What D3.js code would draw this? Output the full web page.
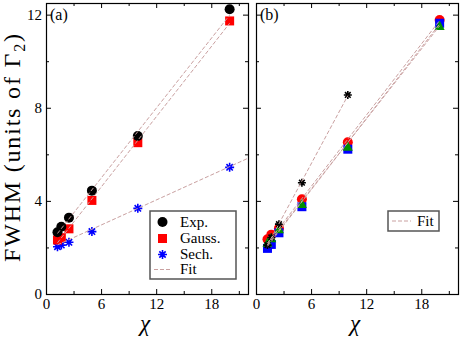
<!DOCTYPE html>
<html><head><meta charset="utf-8">
<script src="https://cdn.jsdelivr.net/npm/d3@7"></script>
<style>
html,body{margin:0;padding:0;background:#fff;}
svg text{font-family:"Liberation Serif","DejaVu Serif",serif;fill:#000;}
</style></head>
<body><svg id="c" width="463" height="343" font-family="Liberation Serif"></svg>
<script>
// ---- data ----
const chi = [1.25, 1.67, 2.5, 5, 10, 20];
const aExp = [2.65, 2.89, 3.28, 4.44, 6.79, 12.23];
const aGauss = [2.32, 2.42, 2.80, 4.02, 6.50, 11.73];
const aSech = [2.03, 2.10, 2.22, 2.68, 3.68, 5.44];
const aFitX = [[1.25, 20], [1.25, 20], [1.25, 22]];
const aFitY = [[2.60, 11.98], [2.20, 11.63], [2.11, 5.83]];

const bRed = [2.35, 2.55, 2.82, 4.07, 6.52, 11.77];
const bBlue = [1.96, 2.13, 2.63, 3.75, 6.22, 11.63];
const bGreen = [2.20, 2.39, 2.78, 3.87, 6.33, 11.51];
const chiStar = [1.25, 1.67, 2.5, 5, 10];
const bStar = [2.10, 2.43, 3.00, 4.78, 8.55];
const bFitX = [[1.25, 20], [1.25, 20], [1.25, 20], [1.25, 10]];
const bFitY = [[2.19, 11.75], [2.05, 11.60], [2.12, 11.52], [2.10, 8.52]];

const xMajor = [0, 6, 12, 18], xMinor = [3, 9, 15, 21];
const yMajor = [0, 4, 8, 12], yMinor = [2, 6, 10];
const legendA = ["Exp.", "Gauss.", "Sech.", "Fit"];

// ---- drawing ----
const SERIF = '"Liberation Serif","DejaVu Serif",serif';
const svg = d3.select("#c");
const y = d3.scaleLinear().domain([0, 12.5]).range([294, 3]);
const xa = d3.scaleLinear().domain([0, 22]).range([46, 248]);
const xb = d3.scaleLinear().domain([0, 22]).range([256, 458]);
const fitColor = "#c9a0a0";

function frame(x, showY) {
  const g = svg.append("g");
  const [x0, x1] = x.range(); const [y0, y1] = y.range();
  const ax = (gen, tr) => {
    const a = g.append("g").attr("transform", tr).call(gen);
    a.attr("font-family", SERIF).attr("font-size", 15);
    a.select(".domain").remove();
    a.selectAll("line").attr("stroke", "#000");
    a.selectAll("text").style("font-family", SERIF).style("font-size", "15px").attr("fill", "#000");
    return a;
  };
  ax(d3.axisBottom(x).tickValues(xMajor).tickSize(-5).tickPadding(4).tickFormat(d3.format("d")), `translate(0,${y0})`);
  ax(d3.axisBottom(x).tickValues(xMinor).tickSize(-3).tickFormat(""), `translate(0,${y0})`);
  ax(d3.axisTop(x).tickValues(xMajor).tickSize(-5).tickFormat(""), `translate(0,${y1})`);
  ax(d3.axisTop(x).tickValues(xMinor).tickSize(-3).tickFormat(""), `translate(0,${y1})`);
  ax(d3.axisLeft(y).tickValues(yMajor).tickSize(-5).tickPadding(4).tickFormat(showY ? d3.format("d") : ""), `translate(${x0},0)`);
  ax(d3.axisLeft(y).tickValues(yMinor).tickSize(-3).tickFormat(""), `translate(${x0},0)`);
  ax(d3.axisRight(y).tickValues(yMajor).tickSize(-5).tickFormat(""), `translate(${x1},0)`);
  ax(d3.axisRight(y).tickValues(yMinor).tickSize(-3).tickFormat(""), `translate(${x1},0)`);
  g.append("rect").attr("x", x0 + 0.5).attr("y", y1 + 0.5).attr("width", x1 - x0).attr("height", y0 - y1)
    .attr("fill", "none").attr("stroke", "#000").attr("stroke-width", 1.2);
  g.append("text").attr("x", (x0 + x1) / 2 - 2).attr("y", 331).attr("text-anchor", "middle")
    .style("font-family", SERIF).style("font-size", "23px").style("font-style", "italic").text("χ");
  return g;
}

const gA = frame(xa, true);
const gB = frame(xb, false);

function star(g, cx, cy, r, color) {
  const p = d3.path();
  for (let k = 0; k < 4; k++) {
    const a = k * Math.PI / 4;
    p.moveTo(cx - r * Math.cos(a), cy - r * Math.sin(a));
    p.lineTo(cx + r * Math.cos(a), cy + r * Math.sin(a));
  }
  g.append("path").attr("d", p.toString()).attr("stroke", color).attr("stroke-width", 1.6).attr("fill", "none");
}
function circ(g, cx, cy, color) { g.append("circle").attr("cx", cx).attr("cy", cy).attr("r", 5).attr("fill", color); }
function sq(g, cx, cy, color) { g.append("rect").attr("x", cx - 4.5).attr("y", cy - 4.5).attr("width", 9).attr("height", 9).attr("fill", color); }
function tri(g, cx, cy, color) {
  g.append("path").attr("d", `M${cx},${cy - 5.5}L${cx + 5},${cy + 4}L${cx - 5},${cy + 4}Z`).attr("fill", color);
}
const line = (x) => d3.line().x(d => x(d[0])).y(d => y(d[1]));
function fit(g, x, xs, ys) {
  g.append("path").attr("d", line(x)(d3.zip(xs, ys))).attr("fill", "none")
    .attr("stroke", fitColor).attr("stroke-width", 1).attr("stroke-dasharray", "4,2");
}

// panel (a)
chi.forEach((c, i) => star(gA, xa(c), y(aSech[i]), 4.5, "#0000ff"));
chi.forEach((c, i) => sq(gA, xa(c), y(aGauss[i]), "#ff0000"));
chi.forEach((c, i) => circ(gA, xa(c), y(aExp[i]), "#000"));
aFitX.forEach((xs, i) => fit(gA, xa, xs, aFitY[i]));

// panel (b)
chi.forEach((c, i) => circ(gB, xb(c), y(bRed[i]), "#ff0000"));
chi.forEach((c, i) => sq(gB, xb(c), y(bBlue[i]), "#0000ff"));
chi.forEach((c, i) => tri(gB, xb(c), y(bGreen[i]), "#009000"));
chiStar.forEach((c, i) => star(gB, xb(c), y(bStar[i]), 4, "#000"));
bFitX.forEach((xs, i) => fit(gB, xb, xs, bFitY[i]));

// panel labels
svg.append("text").attr("x", 50).attr("y", 20).style("font-family", SERIF).style("font-size", "16px").text("(a)");
svg.append("text").attr("x", 260).attr("y", 20).style("font-family", SERIF).style("font-size", "16px").text("(b)");

// y label
const yl = svg.append("text").attr("transform", "translate(20,148) rotate(-90)").attr("text-anchor", "middle")
  .style("font-family", SERIF).style("font-size", "24px").attr("textLength", 228).attr("lengthAdjust", "spacing");
yl.append("tspan").text("FWHM (units of Γ");
yl.append("tspan").attr("dy", 5).style("font-size", "16px").text("2");
yl.append("tspan").attr("dy", -5).text(")");

// legend (a)
const L = svg.append("g");
L.append("rect").attr("x", 150).attr("y", 211).attr("width", 86).attr("height", 68)
  .attr("fill", "#fff").attr("stroke", "#555").attr("stroke-width", 1.5);
const ly = [222, 238.5, 254.5, 269.5];
circ(L, 162.5, ly[0], "#000");
sq(L, 162.5, ly[1], "#ff0000");
star(L, 162.5, ly[2], 4.5, "#0000ff");
L.append("line").attr("x1", 154).attr("x2", 172).attr("y1", ly[3]).attr("y2", ly[3])
  .attr("stroke", fitColor).attr("stroke-dasharray", "4,2");
legendA.forEach((t, i) => L.append("text").attr("x", 180).attr("y", ly[i] + 4.5)
  .style("font-family", SERIF).style("font-size", "15px").text(t));

// legend (b)
const LB = svg.append("g");
LB.append("rect").attr("x", 388).attr("y", 211).attr("width", 51).attr("height", 20)
  .attr("fill", "#fff").attr("stroke", "#555").attr("stroke-width", 1.5);
LB.append("line").attr("x1", 392).attr("x2", 411).attr("y1", 221).attr("y2", 221)
  .attr("stroke", fitColor).attr("stroke-dasharray", "4,2");
LB.append("text").attr("x", 417).attr("y", 226).style("font-family", SERIF).style("font-size", "15px").text(legendA[3]);
</script></body></html>
